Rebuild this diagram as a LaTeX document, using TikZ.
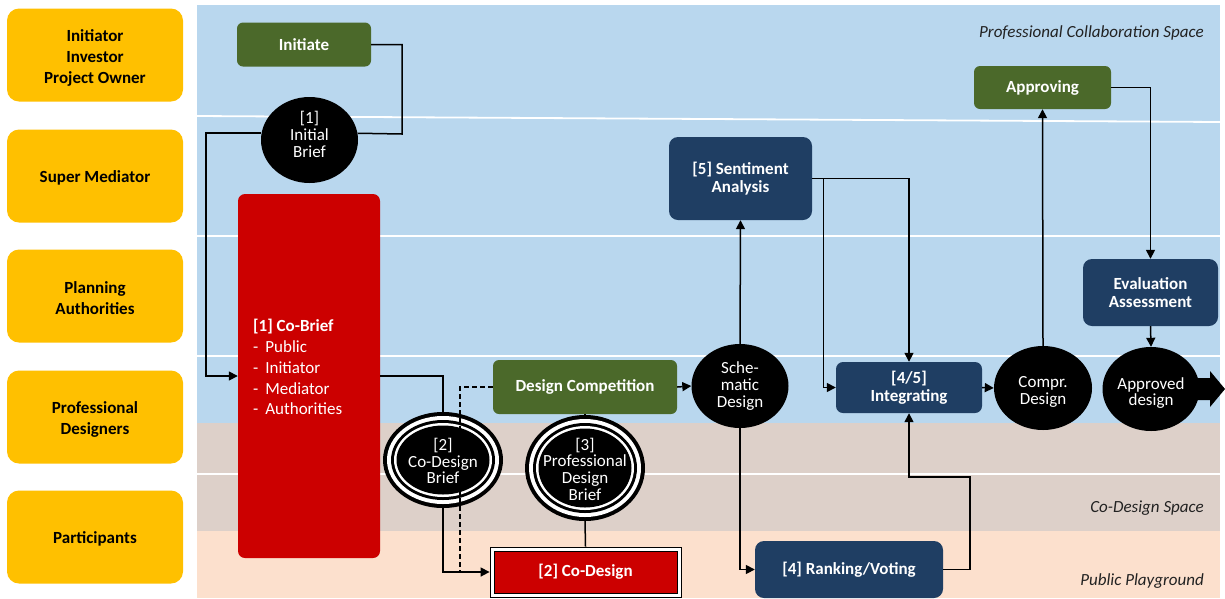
\documentclass[tikz,border=0pt]{standalone}
\usepackage{fontspec}
\setmainfont{Carlito}
\usetikzlibrary{shapes.geometric,arrows.meta,calc}

\definecolor{laneblue}{HTML}{B9D7EE}
\definecolor{lanetan}{HTML}{DDD0C9}
\definecolor{lanepink}{HTML}{FCE0CD}
\definecolor{roleyellow}{HTML}{FFC000}
\definecolor{stepgreen}{HTML}{4B692A}
\definecolor{stepnavy}{HTML}{1F3E63}
\definecolor{stepred}{HTML}{CC0000}
\definecolor{labelgray}{HTML}{222222}

\tikzset{
  rolebox/.style={draw=none, fill=roleyellow, rounded corners=12pt,
    minimum width=176pt, minimum height=93pt, inner sep=0pt},
  roletext/.style={inner sep=0pt, align=center, text=black,
    font=\fontsize{17}{21}\selectfont\bfseries},
  greenbox/.style={fill=stepgreen, rounded corners=6pt, inner sep=0pt,
    align=center, text=white, font=\fontsize{17}{18}\selectfont\bfseries},
  navybox/.style={fill=stepnavy, rounded corners=9pt, inner sep=0pt,
    align=center, text=white, font=\fontsize{17}{17.5}\selectfont\bfseries},
  blackoval/.style={ellipse, fill=black, inner sep=0pt},
  ovaltext/.style={inner sep=0pt, align=center, text=white,
    font=\fontsize{17}{16.7}\selectfont},
  flow/.style={line width=1.5pt, draw=black},
  arrowflow/.style={flow, -{Triangle[length=9pt,width=9pt]}},
  dashflow/.style={flow, dash pattern=on 5pt off 3pt},
  lanelabel/.style={inner sep=0pt, anchor=east, text=labelgray,
    font=\fontsize{17}{17}\selectfont\itshape},
  laneline/.style={draw=white, line width=1.8pt}
}

% concentric rings for the brief documents
\newcommand{\ringoval}[3]{% center, x radius, y radius
  \fill[black]  #1 ellipse [x radius=#2pt,       y radius=#3pt];
  \fill[white]  #1 ellipse [x radius=#2pt-4pt,   y radius=#3pt-4pt];
  \fill[black]  #1 ellipse [x radius=#2pt-8pt,   y radius=#3pt-8pt];
  \fill[white]  #1 ellipse [x radius=#2pt-11pt,  y radius=#3pt-11pt];
  \fill[black]  #1 ellipse [x radius=#2pt-13.5pt,y radius=#3pt-13.5pt];
}

\begin{document}
\begin{tikzpicture}[x=1pt,y=-1pt]
\useasboundingbox (0,0) rectangle (1225,598);
\fill[white] (0,0) rectangle (1225,598);

% swim-lane background
\fill[laneblue] (197,5) rectangle (1220,423);
\fill[lanetan]  (197,423) rectangle (1220,531);
\fill[lanepink] (197,531) rectangle (1220,598);
\draw[laneline] (197,116) -- (1220,122);
\draw[laneline] (197,236) -- (1220,236);
\draw[laneline] (197,356) -- (1220,356);
\draw[laneline] (197,474) -- (1220,474);

\node[lanelabel] (lblpro) at (1204,33) {Professional Collaboration Space};
\node[lanelabel] (lblco)  at (1204,508) {Co-Design Space};
\node[lanelabel] (lblpub) at (1204,581) {Public Playground};

% roles
\node[rolebox] (r1) at (95,55)  {};
\node[rolebox] (r2) at (95,176) {};
\node[rolebox] (r3) at (95,296) {};
\node[rolebox] (r4) at (95,417) {};
\node[rolebox] (r5) at (95,537) {};
\node[roletext] (t1) at (95,58)  {Initiator\\Investor\\Project Owner};
\node[roletext] (t2) at (95,178) {Super Mediator};
\node[roletext] (t3) at (95,298.5) {Planning\\Authorities};
\node[roletext] (t4) at (95,419.5) {Professional\\Designers};
\node[roletext] (t5) at (95,539) {Participants};

% process steps
\node[greenbox, minimum width=134pt, minimum height=44pt] (initiate) at (304,44.5) {Initiate};
\node[blackoval, minimum width=97pt, minimum height=86pt] (initbrief) at (309.5,140) {};
\node[ovaltext] (initbrieftext) at (309.5,134.5) {[1]\\Initial\\Brief};

\node[fill=stepred, rounded corners=7pt, minimum width=142pt, minimum height=364pt, inner sep=0pt] (cobrief) at (309,376) {};
\node[anchor=north west, inner sep=0pt, align=left, text=white,
      font=\fontsize{17}{20.8}\selectfont] (cobrieftext) at (253,319)
  {\textbf{[1] Co-Brief}\\-\hspace{7pt}Public\\-\hspace{7pt}Initiator\\-\hspace{7pt}Mediator\\-\hspace{7pt}Authorities};

\ringoval{(443,460)}{60}{48}
\node[ellipse, minimum width=120pt, minimum height=96pt, inner sep=0pt] (cdbrief) at (443,460) {};
\node[ovaltext] (cdbrieftext) at (443,461) {[2]\\Co-Design\\Brief};

\node[greenbox, minimum width=184pt, minimum height=54pt] (dcomp) at (585,387) {Design Competition};

\ringoval{(585,468)}{60}{53}
\node[ellipse, minimum width=120pt, minimum height=106pt, inner sep=0pt] (pdbrief) at (585,468) {};
\node[ovaltext] (pdbrieftext) at (585,469) {[3]\\Professional\\Design\\Brief};

\node[fill=white, draw=black, line width=0.8pt, minimum width=191pt, minimum height=50pt, inner sep=0pt] (codesign) at (585.5,572) {};
\node[fill=stepred, draw=black, line width=0.8pt, minimum width=183pt, minimum height=42pt, inner sep=0pt,
      text=white, font=\fontsize{17}{17}\selectfont\bfseries] (codesigntext) at (585.5,572) {[2] Co-Design};

\node[blackoval, minimum width=97pt, minimum height=84pt] (schem) at (740,386) {};
\node[ovaltext] (schemtext) at (740,386) {Sche-\\matic\\Design};
\node[navybox, minimum width=143pt, minimum height=83pt] (senti) at (740.5,178.5) {[5] Sentiment\\Analysis};
\node[navybox, rounded corners=7pt, minimum width=146pt, minimum height=51pt] (integ) at (909,387.5) {[4/5]\\Integrating};
\node[navybox, minimum width=188pt, minimum height=57pt] (rank) at (849,569.5) {[4] Ranking/Voting};
\node[blackoval, minimum width=98pt, minimum height=84pt] (compr) at (1043,388) {};
\node[ovaltext] (comprtext) at (1043,392) {Compr.\\Design};
\node[greenbox, minimum width=137pt, minimum height=43pt] (approving) at (1042.5,87.5) {Approving};
\node[navybox, minimum width=135pt, minimum height=67pt] (eval) at (1150.5,292.5) {Evaluation\\Assessment};
\node[blackoval, minimum width=97pt, minimum height=84pt] (approved) at (1151,389) {};
\node[ovaltext] (approvedtext) at (1151,393) {Approved\\design};

% connectors
\draw[flow] (initiate.east) -| (402,134) -- (initbrief.8);
\draw[arrowflow] (initbrief.172) -| (206,376) -- (cobrief.west);
\draw[flow] (cobrief.east) -| (cdbrief.north);
\draw[arrowflow] (cdbrief.south) |- (codesign.west);
\draw[dashflow] (dcomp.west) -| (460,572);
\draw[flow] (dcomp.south) -- (pdbrief.north);
\draw[flow] (pdbrief.south) -- (codesign.north);
\draw[arrowflow] (dcomp.east) -- (schem.west);
\draw[arrowflow] (schem.north) -- (senti.south);
\draw[arrowflow] (schem.south) |- (rank.west);
\draw[arrowflow] (senti.east) -| (integ.north);
\draw[arrowflow] ($(senti.east)+(11.5,0)$) |- (integ.west);
\draw[arrowflow] (rank.east) -| (970,477) -| (integ.south);
\draw[arrowflow] (integ.east) -- (compr.west);
\draw[arrowflow] (compr.north) -- (approving.south);
\draw[arrowflow] (approving.east) -| (eval.north);
\draw[arrowflow] (eval.south) -- (approved.north);

% outgoing block arrow
\fill[black] ($(approved.east)+(-8,-11)$) -- (1210,378) -- (1210,371) -- (1225,389)
  -- (1210,407) -- (1210,400) -- ($(approved.east)+(-8,11)$) -- cycle;
\end{tikzpicture}
\end{document}
